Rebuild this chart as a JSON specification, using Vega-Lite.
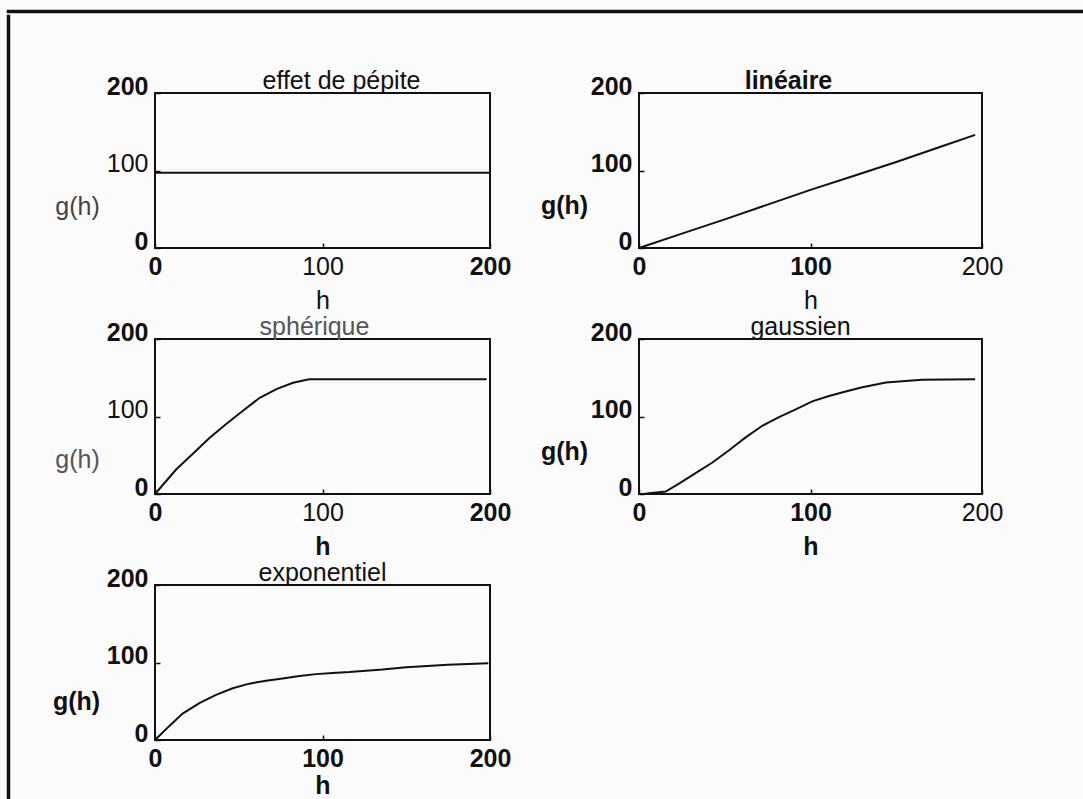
{
  "$schema": "https://vega.github.io/schema/vega-lite/v6.json",
  "background": "#fbfbfc",
  "padding": {"left": 6, "top": 9, "right": 0, "bottom": 0},
  "datasets": {
    "pepite": [{"h": 0, "g": 97}, {"h": 200, "g": 97}],
    "lineaire": [{"h": 0, "g": 0}, {"h": 25, "g": 18.5}, {"h": 50, "g": 37}, {"h": 75, "g": 56}, {"h": 100, "g": 75}, {"h": 125, "g": 93}, {"h": 150, "g": 111}, {"h": 175, "g": 130}, {"h": 196, "g": 146}],
    "spherique": [{"h": 0, "g": 0}, {"h": 12.6, "g": 31.6}, {"h": 22.6, "g": 51.9}, {"h": 32.5, "g": 72.2}, {"h": 42.5, "g": 90.3}, {"h": 52.5, "g": 107.4}, {"h": 62.5, "g": 124.2}, {"h": 72.5, "g": 135.4}, {"h": 82.4, "g": 143.6}, {"h": 92, "g": 148}, {"h": 100, "g": 148}, {"h": 150, "g": 148}, {"h": 198, "g": 148}],
    "gaussien": [{"h": 3, "g": 0}, {"h": 5.8, "g": 1}, {"h": 15.6, "g": 3.2}, {"h": 23.3, "g": 13.5}, {"h": 33, "g": 27}, {"h": 42.8, "g": 40.6}, {"h": 52.5, "g": 56.4}, {"h": 62.2, "g": 73.1}, {"h": 71.9, "g": 88}, {"h": 81.6, "g": 99.3}, {"h": 91.4, "g": 109.3}, {"h": 101, "g": 119.6}, {"h": 110.8, "g": 126.4}, {"h": 120.5, "g": 132.3}, {"h": 130.2, "g": 137.7}, {"h": 144, "g": 143.8}, {"h": 165, "g": 147.3}, {"h": 196, "g": 148.2}],
    "exponentiel": [{"h": 0, "g": 0}, {"h": 8.6, "g": 18.2}, {"h": 16.5, "g": 34.1}, {"h": 26.5, "g": 47.7}, {"h": 36.4, "g": 58.2}, {"h": 46.4, "g": 66.8}, {"h": 56.3, "g": 72.7}, {"h": 66.3, "g": 76.4}, {"h": 76.2, "g": 79.5}, {"h": 86.2, "g": 82.7}, {"h": 96.1, "g": 85}, {"h": 106, "g": 86.4}, {"h": 116, "g": 87.7}, {"h": 126, "g": 89.5}, {"h": 135.9, "g": 90.9}, {"h": 150, "g": 94}, {"h": 175, "g": 97}, {"h": 199, "g": 99}]
  },
  "spacing": 0,
  "vconcat": [
    {"data": {"values": []}, "mark": "point", "width": 1080, "height": 1, "view": {"stroke": "#111", "strokeWidth": 2.5}},
    {
      "spacing": 40,
      "hconcat": [
        {"data": {"values": []}, "mark": "point", "width": 1, "height": 790, "view": {"stroke": "#111", "strokeWidth": 2.5}},
        {
          "spacing": 51,
          "vconcat": [
            {"data": {"values": []}, "mark": "point", "width": 1, "height": 1, "view": {"stroke": null}},
            {
              "columns": 2,
              "spacing": {"row": 0, "column": 27},
              "concat": [
                {
                  "data": {"name": "pepite"},
                  "width": 335, "height": 155,
                  "title": {"text": "effet de pépite", "dx": 19},
                  "mark": {"type": "line", "color": "#111", "strokeWidth": 2},
                  "encoding": {
                    "x": {"field": "h", "type": "quantitative", "scale": {"domain": [0, 200]},
                      "axis": {"values": [0, 100, 200], "title": "h", "labelFontWeight": {"condition": {"test": "datum.value === 100", "value": "normal"}, "value": "bold"}}},
                    "y": {"field": "g", "type": "quantitative", "scale": {"domain": [0, 200]},
                      "axis": {"values": [0, 100, 200], "title": "g(h)", "titleX": -78, "titleY": 113, "titleColor": "#444", "labelFontWeight": {"condition": {"test": "datum.value === 100", "value": "normal"}, "value": "bold"}}}
                  }
                },
                {
                  "data": {"name": "lineaire"},
                  "width": 343, "height": 155,
                  "title": {"text": "linéaire", "dx": -22, "fontWeight": "bold"},
                  "mark": {"type": "line", "color": "#111", "strokeWidth": 2},
                  "encoding": {
                    "x": {"field": "h", "type": "quantitative", "scale": {"domain": [0, 200]},
                      "axis": {"values": [0, 100, 200], "title": "h", "labelFontWeight": {"condition": {"test": "datum.value === 200", "value": "normal"}, "value": "bold"}}},
                    "y": {"field": "g", "type": "quantitative", "scale": {"domain": [0, 200]},
                      "axis": {"values": [0, 100, 200], "title": "g(h)", "titleX": -75, "titleY": 112, "titleFontWeight": "bold", "labelFontWeight": "bold"}}
                  }
                },
                {
                  "data": {"name": "spherique"},
                  "width": 335, "height": 155,
                  "title": {"text": "sphérique", "dx": -8, "color": "#555"},
                  "mark": {"type": "line", "color": "#111", "strokeWidth": 2},
                  "encoding": {
                    "x": {"field": "h", "type": "quantitative", "scale": {"domain": [0, 200]},
                      "axis": {"values": [0, 100, 200], "title": "h", "titleFontWeight": "bold", "labelFontWeight": {"condition": {"test": "datum.value === 100", "value": "normal"}, "value": "bold"}}},
                    "y": {"field": "g", "type": "quantitative", "scale": {"domain": [0, 200]},
                      "axis": {"values": [0, 100, 200], "title": "g(h)", "titleX": -78, "titleY": 120, "titleColor": "#555", "labelFontWeight": {"condition": {"test": "datum.value === 100", "value": "normal"}, "value": "bold"}}}
                  }
                },
                {
                  "data": {"name": "gaussien"},
                  "width": 343, "height": 155,
                  "title": {"text": "gaussien", "dx": -10},
                  "mark": {"type": "line", "color": "#111", "strokeWidth": 2},
                  "encoding": {
                    "x": {"field": "h", "type": "quantitative", "scale": {"domain": [0, 200]},
                      "axis": {"values": [0, 100, 200], "title": "h", "titleFontWeight": "bold", "labelFontWeight": {"condition": {"test": "datum.value === 200", "value": "normal"}, "value": "bold"}}},
                    "y": {"field": "g", "type": "quantitative", "scale": {"domain": [0, 200]},
                      "axis": {"values": [0, 100, 200], "title": "g(h)", "titleX": -75, "titleY": 112, "titleFontWeight": "bold", "labelFontWeight": "bold"}}
                  }
                },
                {
                  "data": {"name": "exponentiel"},
                  "width": 335, "height": 155,
                  "title": {"text": "exponentiel", "dx": 0},
                  "mark": {"type": "line", "color": "#111", "strokeWidth": 2},
                  "encoding": {
                    "x": {"field": "h", "type": "quantitative", "scale": {"domain": [0, 200]},
                      "axis": {"values": [0, 100, 200], "title": "h", "titlePadding": 2, "titleFontWeight": "bold", "labelFontWeight": "bold"}},
                    "y": {"field": "g", "type": "quantitative", "scale": {"domain": [0, 200]},
                      "axis": {"values": [0, 100, 200], "title": "g(h)", "titleX": -79, "titleY": 116, "titleFontWeight": "bold", "labelFontWeight": "bold"}}
                  }
                }
              ]
            }
          ]
        }
      ]
    }
  ],
  "config": {
    "font": "Liberation Sans",
    "view": {"stroke": "#111", "strokeWidth": 2},
    "axis": {
      "domain": false, "grid": false,
      "labelFontSize": 25, "titleFontSize": 25,
      "labelColor": "#111", "titleColor": "#111",
      "titleFontWeight": "normal",
      "tickColor": "#111", "tickSize": -5, "tickWidth": 1.5,
      "labelFlush": false, "labelOverlap": false
    },
    "axisX": {"labelPadding": 11, "titlePadding": 9, "labelBaseline": "top"},
    "axisY": {"labelPadding": 12, "labelBaseline": "alphabetic", "labelOffset": 1, "titleAngle": 0, "titleAlign": "center", "titleBaseline": "middle"},
    "title": {"fontSize": 25, "fontWeight": "normal", "color": "#111", "anchor": "middle", "offset": -20, "baseline": "alphabetic", "frame": "group"}
  }
}
